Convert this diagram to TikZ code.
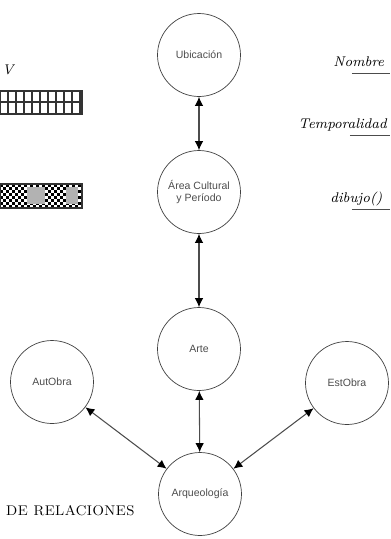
\documentclass[tikz,border=0pt]{standalone}
\usepackage{fontspec}
\setsansfont{Liberation Sans}
\usetikzlibrary{positioning,arrows.meta}
\tikzset{
    entidad/.style={draw=black!75, circle, minimum size=1.66cm, inner sep=1pt,
        align=center, font=\sffamily\fontsize{6}{7}\selectfont, text=black!70},
    rel/.style={black!70, semithick, {Latex[black,length=1.8mm,width=1.7mm]}-{Latex[black,length=1.8mm,width=1.7mm]}},
    atributo/.style={font=\itshape\fontsize{8}{9}\selectfont, inner sep=0pt}
}
\begin{document}
\begin{tikzpicture}[x=0.02cm, y=-0.02cm]
    \useasboundingbox (0,0) rectangle (390,539);
    \clip (0,0) rectangle (390,539);

    % Entities
    \node[entidad] (ubic) at (199,55) {Ubicación};
    \node[entidad] (area) at (199,192) {Área Cultural\\ y Período};
    \node[entidad] (arte) at (199,349) {Arte};
    \node[entidad] (arq) at (200,494) {Arqueología};
    \node[entidad] (autor) at (52,382) {AutObra};
    \node[entidad] (estilo) at (347,383) {EstObra};

    % Relations
    \draw[rel] (ubic) -- (area);
    \draw[rel] (area) -- (arte);
    \draw[rel] (arte) -- (arq);
    \draw[rel] (autor) -- (arq);
    \draw[rel] (estilo) -- (arq);

    % Legend on the left
    \node[atributo, anchor=west] (leyv) at (2,70) {V};
    \fill[white] (0,91) rectangle (82,114);
    \foreach \x in {0,8,...,80}
        \draw[black!80, line width=0.6pt] (\x,91) -- (\x,114);
    \draw[black!80, line width=0.6pt] (0,102) -- (82,102);
    \draw[black!80, line width=1pt] (0,91) rectangle (82,114);
    \foreach \i in {0,...,26}
        \foreach \j in {0,...,7}{
            \pgfmathtruncatemacro{\chk}{mod(\i+\j,2)}
            \ifnum\chk=0 \fill[black] (3*\i,184+3*\j) rectangle ++(3,3); \fi
        }
    \fill[black!30] (27,187) rectangle (45,204);
    \fill[black!30] (66,187) rectangle (78,204);
    \draw[black!80, line width=1pt] (0,184) rectangle (82,208);

    % Attributes on the right
    \node[atributo, anchor=west] (nombre) at (333,62) {Nombre};
    \node[atributo, anchor=west] (tempo) at (298,125) {Temporalidad};
    \node[atributo, anchor=west] (dibujo) at (330,199) {dibujo()};
    \coordinate (u1) at (352,73);
    \coordinate (u2) at (350,135);
    \coordinate (u3) at (352,209);
    \draw[black!70] (u1) -- (u1 -| 390,0);
    \draw[black!70] (u2) -- (u2 -| 390,0);
    \draw[black!70] (u3) -- (u3 -| 390,0);

    % Title
    \node[atributo, anchor=east, font=\scshape\fontsize{8}{9}\selectfont] (titulo) at (135,511) {DE RELACIONES};
\end{tikzpicture}
\end{document}
